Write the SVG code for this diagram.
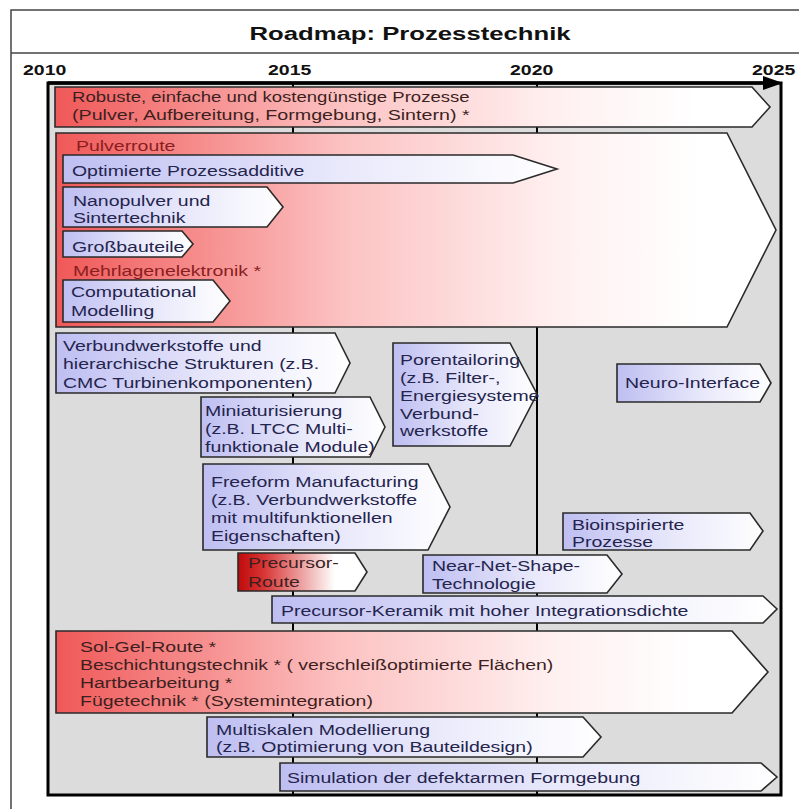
<svg xmlns="http://www.w3.org/2000/svg" width="799" height="809" viewBox="0 0 799 809">
<defs>
<linearGradient id="gRed" x1="0" y1="0" x2="1" y2="0">
<stop offset="0" stop-color="#f05858"/>
<stop offset="0.4" stop-color="#fcc2c2"/>
<stop offset="0.7" stop-color="#fff0f0"/>
<stop offset="0.9" stop-color="#ffffff"/>
</linearGradient>
<linearGradient id="gBlue" x1="0" y1="0" x2="1" y2="0">
<stop offset="0" stop-color="#bebef2"/>
<stop offset="0.55" stop-color="#e8e8fb"/>
<stop offset="1" stop-color="#ffffff"/>
</linearGradient>
<linearGradient id="gDark" x1="0" y1="0" x2="1" y2="0">
<stop offset="0" stop-color="#c00a0a"/>
<stop offset="0.2" stop-color="#d83535"/>
<stop offset="0.75" stop-color="#ffffff"/>
</linearGradient>
<style>
text{font-family:"Liberation Sans",Arial,Helvetica,sans-serif;font-size:14px}
.title{font-weight:bold;font-size:18.5px;fill:#111}
.year{font-weight:bold;font-size:14px;fill:#111}
.bar{stroke:#2a2a2a;stroke-width:1.6;stroke-linejoin:miter}
.red{fill:url(#gRed)}
.blue{fill:url(#gBlue)}
.dred{fill:url(#gDark)}
.tr{fill:#3d1f1f}
.tm{fill:#8a1e1e}
.tb{fill:#24244d}
.vline{stroke:#000;stroke-width:2}
</style>
</defs>

<g id="frame">
<rect x="11" y="10" width="800" height="820" fill="#fff" stroke="#444" stroke-width="1.5"/>
<line x1="11" y1="53" x2="799" y2="53" stroke="#444" stroke-width="1.5"/>
<text class="title" text-anchor="middle" transform="translate(410,40) scale(1.39 1)">Roadmap: Prozesstechnik</text>
</g>

<g id="timeline">
<text class="year" transform="translate(23,75) scale(1.39 1)">2010</text>
<text class="year" transform="translate(268,75) scale(1.39 1)">2015</text>
<text class="year" transform="translate(510,75) scale(1.39 1)">2020</text>
<text class="year" transform="translate(752,75) scale(1.39 1)">2025</text>
<rect x="48" y="83" width="733" height="712" fill="#dcdcdc" stroke="#000" stroke-width="3"/>
<line class="vline" x1="293" y1="83" x2="293" y2="795"/>
<line class="vline" x1="537" y1="83" x2="537" y2="795"/>
<line x1="48" y1="83" x2="768" y2="83" stroke="#000" stroke-width="3.5"/>
<polygon points="763,76 783,83 763,90" fill="#000"/>
</g>

<g id="robuste">
<polygon class="bar red" points="55,87 752,87 770,107 752,127 55,127"/>
<text class="tr" textLength="286" lengthAdjust="spacingAndGlyphs" transform="translate(72,102) scale(1.39 1)">Robuste, einfache und kostengünstige Prozesse</text>
<text class="tr" textLength="286" lengthAdjust="spacingAndGlyphs" transform="translate(72,120) scale(1.39 1)">(Pulver, Aufbereitung, Formgebung, Sintern) *</text>
</g>

<g id="pulverroute">
<polygon class="bar red" points="56,133 727,133 776,230 727,327 56,327"/>
<text class="tm" transform="translate(76,151) scale(1.39 1)">Pulverroute</text>
<text class="tm" transform="translate(73,276) scale(1.39 1)">Mehrlagenelektronik *</text>
</g>

<g id="optimierte">
<polygon class="bar blue" points="63,155 513,155 557,169 513,183 63,183"/>
<text class="tb" transform="translate(72,176) scale(1.39 1)">Optimierte Prozessadditive</text>
</g>

<g id="nanopulver">
<polygon class="bar blue" points="63,187 267,187 283,207 267,227 63,227"/>
<text class="tb" transform="translate(73,206) scale(1.39 1)">Nanopulver und</text>
<text class="tb" transform="translate(73,223) scale(1.39 1)">Sintertechnik</text>
</g>

<g id="grossbauteile">
<polygon class="bar blue" points="63,231 182,231 193,244 182,257 63,257"/>
<text class="tb" transform="translate(72,252) scale(1.39 1)">Großbauteile</text>
</g>

<g id="computational">
<polygon class="bar blue" points="63,280 213,280 230,301 213,322 63,322"/>
<text class="tb" transform="translate(71,297) scale(1.39 1)">Computational</text>
<text class="tb" transform="translate(71,316) scale(1.39 1)">Modelling</text>
</g>

<g id="verbund">
<polygon class="bar blue" points="56,333 335,333 350,363 335,393 56,393"/>
<text class="tb" transform="translate(63,351) scale(1.39 1)">Verbundwerkstoffe und</text>
<text class="tb" transform="translate(63,369) scale(1.39 1)">hierarchische Strukturen (z.B.</text>
<text class="tb" transform="translate(63,388) scale(1.39 1)">CMC Turbinenkomponenten)</text>
</g>

<g id="porentailoring">
<polygon class="bar blue" points="393,343 510,343 537,394 510,446 393,446"/>
<text class="tb" transform="translate(400,365) scale(1.39 1)">Porentailoring</text>
<text class="tb" transform="translate(400,383) scale(1.39 1)">(z.B. Filter-,</text>
<text class="tb" transform="translate(400,401) scale(1.39 1)">Energiesysteme</text>
<text class="tb" transform="translate(400,419) scale(1.39 1)">Verbund-</text>
<text class="tb" transform="translate(400,436) scale(1.39 1)">werkstoffe</text>
</g>

<g id="neuro">
<polygon class="bar blue" points="617,364 760,364 771,383 760,402 617,402"/>
<text class="tb" transform="translate(625,388) scale(1.39 1)">Neuro-Interface</text>
</g>

<g id="miniaturisierung">
<polygon class="bar blue" points="201,397 370,397 385,427 370,457 201,457"/>
<text class="tb" transform="translate(205,416) scale(1.39 1)">Miniaturisierung</text>
<text class="tb" transform="translate(205,434) scale(1.39 1)">(z.B. LTCC Multi-</text>
<text class="tb" transform="translate(205,452) scale(1.39 1)">funktionale Module)</text>
</g>

<g id="freeform">
<polygon class="bar blue" points="203,464 428,464 450,507 428,550 203,550"/>
<text class="tb" transform="translate(211,487) scale(1.39 1)">Freeform Manufacturing</text>
<text class="tb" transform="translate(211,505) scale(1.39 1)">(z.B. Verbundwerkstoffe</text>
<text class="tb" transform="translate(211,523) scale(1.39 1)">mit multifunktionellen</text>
<text class="tb" transform="translate(211,541) scale(1.39 1)">Eigenschaften)</text>
</g>

<g id="bioinspirierte">
<polygon class="bar blue" points="563,513 750,513 763,531 750,550 563,550"/>
<text class="tb" transform="translate(572,530) scale(1.39 1)">Bioinspirierte</text>
<text class="tb" transform="translate(572,547) scale(1.39 1)">Prozesse</text>
</g>

<g id="precursor-route">
<polygon class="bar dred" points="238,553 355,553 367,572 355,591 238,591"/>
<text class="tr" transform="translate(248,568) scale(1.39 1)">Precursor-</text>
<text class="tr" transform="translate(248,587) scale(1.39 1)">Route</text>
</g>

<g id="nearnet">
<polygon class="bar blue" points="423,555 607,555 622,574 607,593 423,593"/>
<text class="tb" transform="translate(432,571) scale(1.39 1)">Near-Net-Shape-</text>
<text class="tb" transform="translate(432,589) scale(1.39 1)">Technologie</text>
</g>

<g id="precursor-keramik">
<polygon class="bar blue" points="272,596 763,596 777,609 763,623 272,623"/>
<text class="tb" transform="translate(281,616) scale(1.39 1)">Precursor-Keramik mit hoher Integrationsdichte</text>
</g>

<g id="solgel">
<polygon class="bar red" points="56,631 732,631 768,672 732,713 56,713"/>
<text class="tr" transform="translate(80,652) scale(1.39 1)">Sol-Gel-Route *</text>
<text class="tr" transform="translate(80,670) scale(1.39 1)">Beschichtungstechnik * ( verschleißoptimierte Flächen)</text>
<text class="tr" transform="translate(80,688) scale(1.39 1)">Hartbearbeitung *</text>
<text class="tr" transform="translate(80,706) scale(1.39 1)">Fügetechnik * (Systemintegration)</text>
</g>

<g id="multiskalen">
<polygon class="bar blue" points="207,717 583,717 601,737 583,757 207,757"/>
<text class="tb" transform="translate(216,735) scale(1.39 1)">Multiskalen Modellierung</text>
<text class="tb" transform="translate(216,752) scale(1.39 1)">(z.B. Optimierung von Bauteildesign)</text>
</g>

<g id="simulation">
<polygon class="bar blue" points="280,763 761,763 777,777 761,791 280,791"/>
<text class="tb" transform="translate(287,783) scale(1.39 1)">Simulation der defektarmen Formgebung</text>
</g>
</svg>
